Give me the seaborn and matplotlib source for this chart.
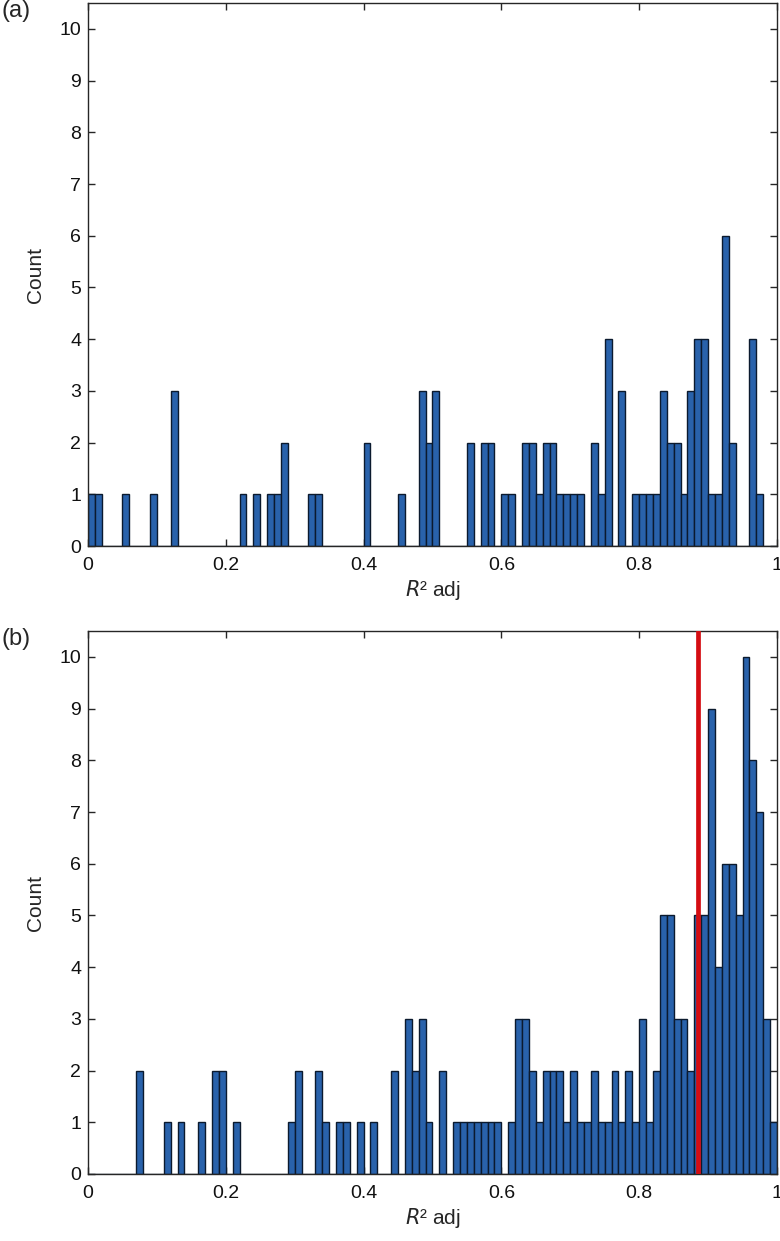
import numpy as np
import pandas as pd
import matplotlib
matplotlib.use('Agg')
import matplotlib.pyplot as plt
import seaborn as sns

# --- DATA (bin left edges, width 0.01, and counts) ---
r2_a = [0.00, 0.01, 0.05, 0.09, 0.12, 0.22, 0.24, 0.26, 0.27, 0.28, 0.32, 0.33,
        0.40, 0.45, 0.48, 0.49, 0.50, 0.55, 0.57, 0.58, 0.60, 0.61, 0.63, 0.64,
        0.65, 0.66, 0.67, 0.68, 0.69, 0.70, 0.71, 0.73, 0.74, 0.75, 0.77, 0.79,
        0.80, 0.81, 0.82, 0.83, 0.84, 0.85, 0.86, 0.87, 0.88, 0.89, 0.90, 0.91,
        0.92, 0.93, 0.96, 0.97]
count_a = [1, 1, 1, 1, 3, 1, 1, 1, 1, 2, 1, 1,
           2, 1, 3, 2, 3, 2, 2, 2, 1, 1, 2, 2,
           1, 2, 2, 1, 1, 1, 1, 2, 1, 4, 3, 1,
           1, 1, 1, 3, 2, 2, 1, 3, 4, 4, 1, 1,
           6, 2, 4, 1]

r2_b = [0.07, 0.11, 0.13, 0.16, 0.18, 0.19, 0.21, 0.29, 0.30, 0.33, 0.34, 0.36,
        0.37, 0.39, 0.41, 0.44, 0.46, 0.47, 0.48, 0.49, 0.51, 0.53,
        0.54, 0.55, 0.56, 0.57, 0.58, 0.59, 0.61, 0.62, 0.63, 0.64, 0.65, 0.66,
        0.67, 0.68, 0.69, 0.70, 0.71, 0.72, 0.73, 0.74, 0.75, 0.76, 0.77, 0.78,
        0.79, 0.80, 0.81, 0.82, 0.83, 0.84, 0.85, 0.86, 0.87, 0.88, 0.89, 0.90,
        0.91, 0.92, 0.93, 0.94, 0.95, 0.96, 0.97, 0.98, 0.99]
count_b = [2, 1, 1, 1, 2, 2, 1, 1, 2, 2, 1, 1,
           1, 1, 1, 2, 3, 2, 3, 1, 2, 1,
           1, 1, 1, 1, 1, 1, 1, 3, 3, 2, 1, 2,
           2, 2, 1, 2, 1, 1, 2, 1, 1, 2, 1, 2,
           1, 3, 1, 2, 5, 5, 3, 3, 2, 5, 5, 9,
           4, 6, 6, 5, 10, 8, 7, 3, 1]

threshold_b = 0.886
xticks = [0, 0.2, 0.4, 0.6, 0.8, 1]
xticklabels = ['0', '0.2', '0.4', '0.6', '0.8', '1']

# --- STYLE ---
sns.set_style('ticks')
plt.rcParams['font.family'] = ['Liberation Sans', 'DejaVu Sans']
plt.rcParams['xtick.direction'] = 'in'
plt.rcParams['ytick.direction'] = 'in'

bar_color = '#2962ab'

fig = plt.figure(figsize=(7.8, 12.41), dpi=100)
ax1 = fig.add_axes([0.1128, 0.560, 0.8833, 0.4375])
ax2 = fig.add_axes([0.1128, 0.054, 0.8833, 0.4375])

panels = [(ax1, r2_a, count_a, '(a)'), (ax2, r2_b, count_b, '(b)')]
for ax, vals, cnts, tag in panels:
    df = pd.DataFrame({'r2': np.array(vals) + 0.005, 'n': cnts})
    sns.histplot(data=df, x='r2', weights='n', binwidth=0.01, binrange=(0, 1),
                 ax=ax, color=bar_color, alpha=1, edgecolor='#0b1a2e',
                 linewidth=1.0)
    ax.set_xlim(0, 1)
    ax.set_ylim(0, 10.5)
    ax.set_xticks(xticks)
    ax.set_xticklabels(xticklabels)
    ax.set_yticks(range(0, 11))
    ax.tick_params(axis='both', labelsize=14, length=5, width=1,
                   color='#262626', labelcolor='#111111',
                   top=True, right=True)
    ax.tick_params(axis='x', pad=8)
    ax.tick_params(axis='y', pad=5)
    for s in ax.spines.values():
        s.set_visible(True)
        s.set_color('#262626')
        s.set_linewidth(1.0)
    ax.set_xlabel(r'$R$' + '² adj', fontsize=15, labelpad=3)
    ax.set_ylabel('Count', fontsize=15, labelpad=10)
    ax.text(-0.125, 0.985, tag, transform=ax.transAxes, fontsize=17,
            ha='left', va='center')

ax2.axvline(threshold_b, color='#d40d12', linewidth=3.4, zorder=5)

fig.savefig('out.png', dpi=100)
